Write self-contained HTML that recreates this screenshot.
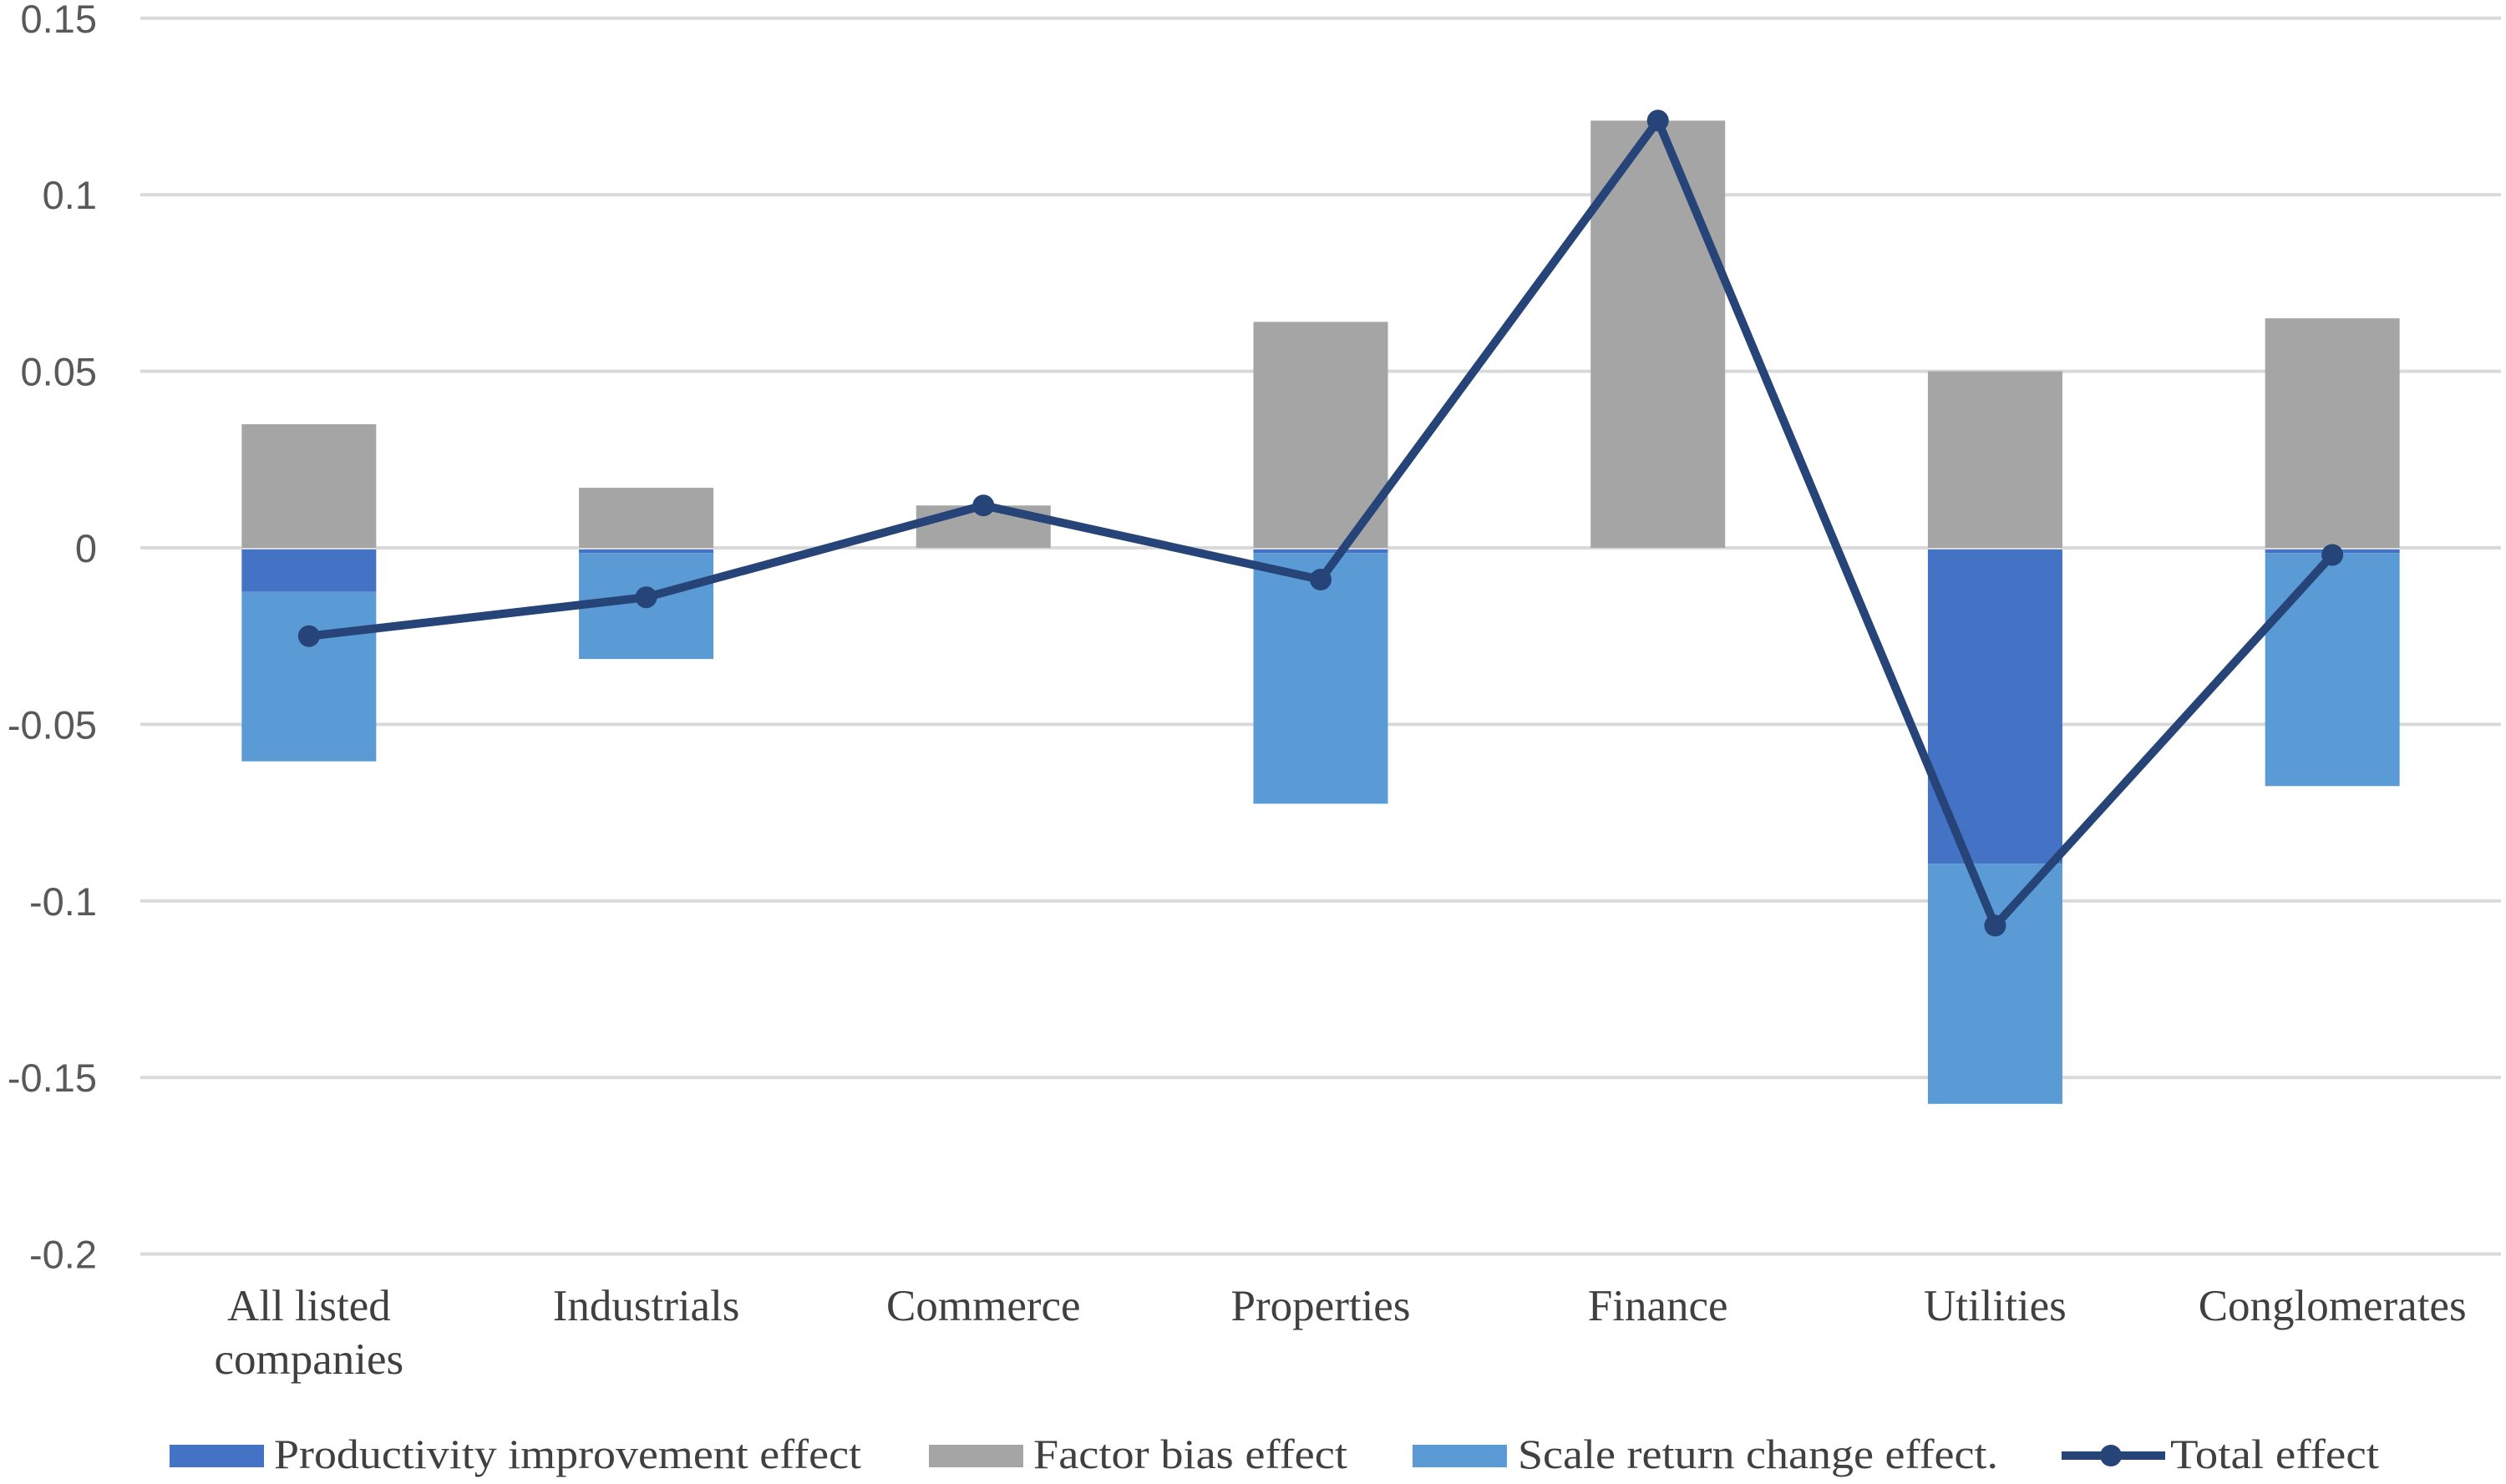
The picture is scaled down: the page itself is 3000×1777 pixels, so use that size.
<!DOCTYPE html>
<html><head><meta charset="utf-8"><style>
html,body{margin:0;padding:0;background:#fff;}
svg{display:block;}
</style></head><body>
<svg id="chart" width="3000" height="1777" viewBox="0 0 3000 1777" xmlns="http://www.w3.org/2000/svg">
<g id="grid"></g>
<g id="yticks"></g>
<g id="bars"></g>
<g id="line"></g>
<g id="xlabels"></g>
<g id="legend">
  <g>
    <rect x="203" y="1730" width="113" height="27" fill="#4472C4"/>
    <text x="328" y="1758" font-family="Liberation Serif, serif" font-size="50" textLength="703" lengthAdjust="spacingAndGlyphs" fill="#404040">Productivity improvement effect</text>
  </g>
  <g>
    <rect x="1112" y="1730" width="113" height="27" fill="#A5A5A5"/>
    <text x="1237" y="1758" font-family="Liberation Serif, serif" font-size="50" textLength="376" lengthAdjust="spacingAndGlyphs" fill="#404040">Factor bias effect</text>
  </g>
  <g>
    <rect x="1691" y="1730" width="113" height="27" fill="#5B9BD5"/>
    <text x="1817" y="1758" font-family="Liberation Serif, serif" font-size="50" textLength="575" lengthAdjust="spacingAndGlyphs" fill="#404040">Scale return change effect.</text>
  </g>
  <g>
    <line x1="2468" y1="1743" x2="2592" y2="1743" stroke="#264478" stroke-width="10"/>
    <circle cx="2527" cy="1743" r="13" fill="#264478"/>
    <text x="2598" y="1758" font-family="Liberation Serif, serif" font-size="50" textLength="250" lengthAdjust="spacingAndGlyphs" fill="#404040">Total effect</text>
  </g>
</g>
</svg>
<script>
const categories = ["All listed|companies","Industrials","Commerce","Properties","Finance","Utilities","Conglomerates"];
const productivity = [-0.012,-0.001,0,-0.001,0,-0.089,-0.001];
const factorBias = [0.035,0.017,0.012,0.064,0.121,0.050,0.065];
const scaleReturn = [-0.048,-0.030,0,-0.071,0,-0.068,-0.066];
const totalEffect = [-0.025,-0.014,0.012,-0.009,0.121,-0.107,-0.002];
const yTicks = [0.15,0.1,0.05,0,-0.05,-0.1,-0.15,-0.2];
const yTickLabels = ["0.15","0.1","0.05","0","-0.05","-0.1","-0.15","-0.2"];

const NS="http://www.w3.org/2000/svg";
const plotL=168, plotR=2994, y0=656, perUnit=211.4/0.05;
const step=(plotR-plotL)/categories.length, barW=161;
function yS(v){return y0 - v*perUnit;}
function xS(i){return plotL + step*(i+0.5);}
function mk(tag,attrs,parent){const e=document.createElementNS(NS,tag);for(const k in attrs)e.setAttribute(k,attrs[k]);parent.appendChild(e);return e;}

const grid=document.getElementById('grid'), yt=document.getElementById('yticks');
yTicks.forEach((t,i)=>{
  const l=mk('line',{x1:plotL,x2:plotR,y1:yS(t),y2:yS(t),stroke:'#d9d9d9','stroke-width':4},grid);
  
  
  const tx=mk('text',{x:116,y:yS(t)+17,'text-anchor':'end','font-family':'Liberation Sans, sans-serif','font-size':47,fill:'#595959'},yt);
  tx.textContent=yTickLabels[i];
  
  
});

const bars=document.getElementById('bars');
categories.forEach((c,i)=>{
  const x=xS(i)-barW/2;
  if(factorBias[i]!==0){
    const r=mk('rect',{x:x,y:yS(factorBias[i]),width:barW,height:yS(0)-yS(factorBias[i]),fill:'#A5A5A5'},bars);
    
    
  }
  const p=productivity[i], s=scaleReturn[i];
  if(p!==0){
    const r=mk('rect',{x:x,y:yS(0)+2,width:barW,height:yS(p)-yS(0),fill:'#4472C4'},bars);
    
    
  }
  if(s!==0){
    const r=mk('rect',{x:x,y:yS(p)+2,width:barW,height:yS(p+s)-yS(p),fill:'#5B9BD5'},bars);
    
    
  }
});

const lg=document.getElementById('line');
const pts=totalEffect.map((v,i)=>xS(i)+','+yS(v)).join(' ');
const pl=mk('polyline',{points:pts,fill:'none',stroke:'#264478','stroke-width':10,'stroke-linejoin':'round'},lg);


totalEffect.forEach((v,i)=>{
  const c=mk('circle',{cx:xS(i),cy:yS(v),r:13,fill:'#264478'},lg);
  
  
});

const xl=document.getElementById('xlabels');
categories.forEach((c,i)=>{
  c.split('|').forEach((ln,j)=>{
    const t=mk('text',{x:xS(i),y:1581+j*64,'text-anchor':'middle','font-family':'Liberation Serif, serif','font-size':53,fill:'#404040'},xl);
    t.textContent=ln;
    
    
  });
});
</script>
</body></html>
